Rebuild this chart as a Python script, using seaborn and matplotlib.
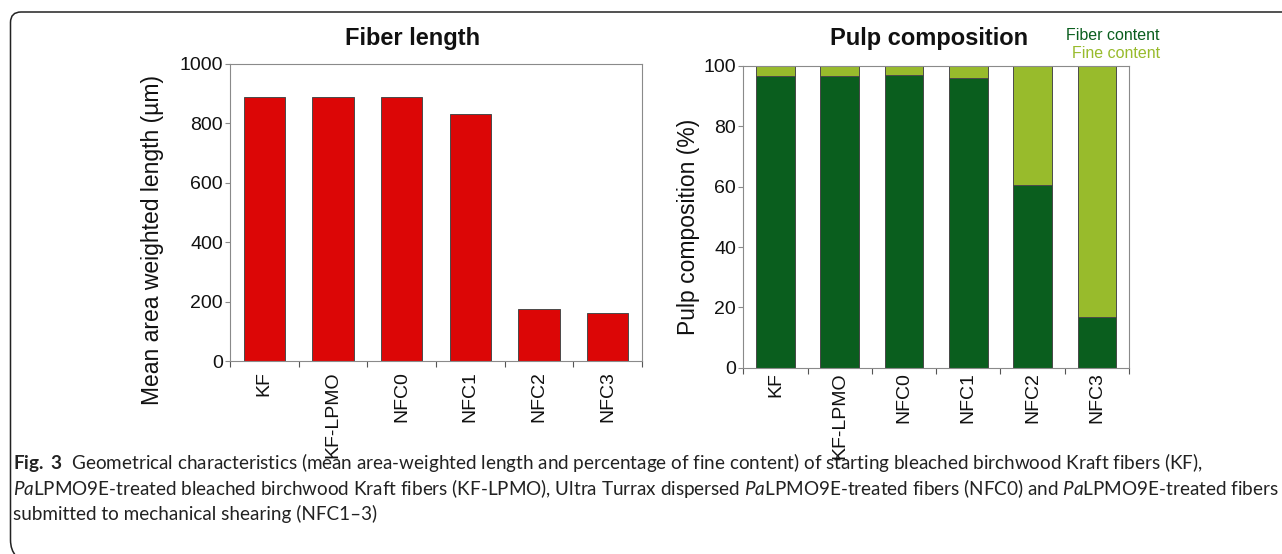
import numpy as np
import pandas as pd
import matplotlib
matplotlib.use("Agg")
import matplotlib.pyplot as plt
import seaborn as sns
from matplotlib.path import Path
from matplotlib.patches import PathPatch

# ---------------- data ----------------
categories = ["KF", "KF-LPMO", "NFC0", "NFC1", "NFC2", "NFC3"]
fiber_length = [886, 886, 889, 832, 176, 161]
fiber_content = [96.6, 96.8, 97.0, 96.0, 60.6, 16.7]
fine_content = [3.4, 3.2, 3.0, 4.0, 39.4, 83.3]
length_ticks = [0, 200, 400, 600, 800, 1000]
comp_ticks = [0, 20, 40, 60, 80, 100]

RED = "#DC0606"
DARK = "#0A5E1E"
LIGHT = "#98BB2C"
SPINE = "#8a8a8a"
EDGE = "#4a4a4a"

sns.set_theme(style="ticks")
plt.rcParams["font.family"] = ["Liberation Sans", "DejaVu Sans"]
plt.rcParams["mathtext.fontset"] = "custom"
plt.rcParams["mathtext.rm"] = "Lato"
plt.rcParams["mathtext.it"] = "Lato:italic"
plt.rcParams["mathtext.bf"] = "Lato:bold"

W, H = 1282, 554
fig = plt.figure(figsize=(W / 100, H / 100), dpi=100)
fig.patch.set_facecolor("white")

# overlay in pixel coordinates (top-left origin)
ov = fig.add_axes([0, 0, 1, 1])
ov.set_xlim(0, W)
ov.set_ylim(H, 0)
ov.set_axis_off()


def px_axes(x0, y0, x1, y1):
    return fig.add_axes([x0 / W, 1 - y1 / H, (x1 - x0) / W, (y1 - y0) / H])


ax1 = px_axes(230, 63.5, 642, 361.3)
ax2 = px_axes(743.3, 66, 1129, 367.7)

df1 = pd.DataFrame({"cat": categories, "len": fiber_length})
sns.barplot(data=df1, x="cat", y="len", color=RED, width=0.6, saturation=1,
            edgecolor=EDGE, linewidth=0.7, ax=ax1)

df2 = pd.DataFrame({"cat": categories, "fiber": fiber_content, "fine": fine_content})
df2["total"] = df2["fiber"] + df2["fine"]
sns.barplot(data=df2, x="cat", y="total", color=LIGHT, width=0.6, saturation=1,
            edgecolor=EDGE, linewidth=0.7, ax=ax2)
sns.barplot(data=df2, x="cat", y="fiber", color=DARK, width=0.6, saturation=1,
            edgecolor=EDGE, linewidth=0.7, ax=ax2)

for ax, yt, ylim, xpad in [(ax1, length_ticks, 1000, 7), (ax2, comp_ticks, 100, 3.5)]:
    ax.set_xlim(-0.5, 5.5)
    ax.set_ylim(0, ylim)
    ax.set_yticks(yt)
    ax.set_yticklabels([str(v) for v in yt], fontsize=14, color="#111111")
    ax.set_xticks(range(len(categories)))
    ax.set_xticklabels(categories, rotation=90, fontsize=14, color="#111111",
                       va="top", ha="center")
    ax.set_xticks(np.arange(-0.5, len(categories), 1.0), minor=True)
    ax.tick_params(axis="x", which="major", length=0, pad=xpad)
    ax.tick_params(axis="x", which="minor", length=4.5, width=0.8, color="#555555",
                   direction="out")
    ax.tick_params(axis="y", which="major", length=3.6, width=0.8, color=SPINE,
                   direction="out", pad=1.5)
    ax.set_xlabel("")
    ax.set_ylabel("")
    for sp in ax.spines.values():
        sp.set_visible(True)
        sp.set_color(SPINE)
        sp.set_linewidth(0.8)
    ax.set_facecolor("white")
    ax.grid(False)

# titles, labels, legend text
ov.text(413, 38, "Fiber length", ha="center", va="center", fontsize=17,
        fontweight="bold", color="#111111")
ov.text(929, 38, "Pulp composition", ha="center", va="center", fontsize=17,
        fontweight="bold", color="#111111")
ov.text(1160, 35, "Fiber content", ha="right", va="center", fontsize=11.5, color=DARK)
ov.text(1160, 53, "Fine content", ha="right", va="center", fontsize=11.5, color=LIGHT)
ov.text(152, 240, "Mean area weighted length (\u00b5m)", rotation=90, ha="center",
        va="center", fontsize=16.5, color="#111111")
ov.text(688, 227, "Pulp composition (%)", rotation=90, ha="center", va="center",
        fontsize=16.5, color="#111111")

# frame
verts = [(W + 2, 12), (21, 12), (10.5, 12), (10.5, 22.5), (10.5, 540),
         (10.5, 550), (16, 556)]
codes = [Path.MOVETO, Path.LINETO, Path.CURVE3, Path.CURVE3, Path.LINETO,
         Path.CURVE3, Path.CURVE3]
ov.add_patch(PathPatch(Path(verts, codes), facecolor="none", edgecolor="#222222",
                       linewidth=1.1, clip_on=False))

# caption
lines = [
    r"$\bf{Fig.\ 3}$  Geometrical characteristics (mean area-weighted length and percentage of fine content) of starting bleached birchwood Kraft fibers (KF),",
    r"$\it{Pa}$LPMO9E-treated bleached birchwood Kraft fibers (KF-LPMO), Ultra Turrax dispersed $\it{Pa}$LPMO9E-treated fibers (NFC0) and $\it{Pa}$LPMO9E-treated fibers",
    "submitted to mechanical shearing (NFC1\u20133)",
]
baselines = [469, 495, 520]
renderer = fig.canvas.get_renderer()
probe = ov.text(13, 494, lines[1], fontsize=12, family="Lato", va="baseline")
wid = probe.get_window_extent(renderer).width
probe.remove()
cap_size = 12 * (1265 / wid)
for s, yb in zip(lines, baselines):
    ov.text(13, yb, s, fontsize=cap_size, family="Lato", va="baseline", ha="left",
            color="#222222")

fig.savefig("out.png", dpi=100, facecolor="white")
